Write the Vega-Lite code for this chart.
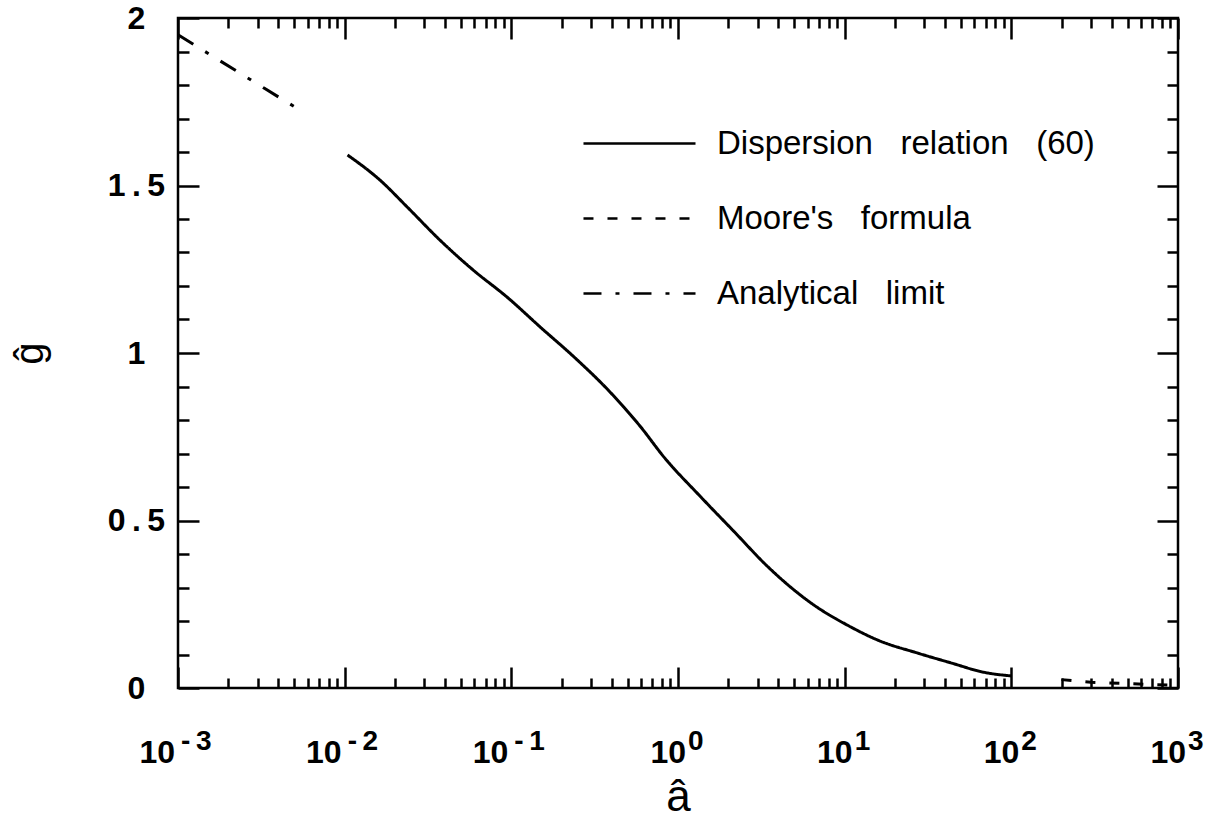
{
  "$schema": "https://vega.github.io/schema/vega-lite/v6.json",
  "width": 1000,
  "height": 670,
  "autosize": {"type": "none"},
  "padding": {"left": 178, "top": 18, "right": 41, "bottom": 130},
  "background": "white",
  "config": {
    "view": {"stroke": "black", "strokeWidth": 2.5},
    "font": "Liberation Sans",
    "axis": {"grid": false, "domain": false, "tickColor": "black", "tickWidth": 2.5, "labelColor": "black", "titleColor": "black"}
  },
  "datasets": {
    "curves": [
      {"series": "Dispersion relation (60)", "a": 0.0104, "g": 1.591},
      {"series": "Dispersion relation (60)", "a": 0.0163, "g": 1.516},
      {"series": "Dispersion relation (60)", "a": 0.0237, "g": 1.436},
      {"series": "Dispersion relation (60)", "a": 0.0373, "g": 1.337},
      {"series": "Dispersion relation (60)", "a": 0.0589, "g": 1.248},
      {"series": "Dispersion relation (60)", "a": 0.0942, "g": 1.167},
      {"series": "Dispersion relation (60)", "a": 0.151, "g": 1.075},
      {"series": "Dispersion relation (60)", "a": 0.238, "g": 0.988},
      {"series": "Dispersion relation (60)", "a": 0.38, "g": 0.89},
      {"series": "Dispersion relation (60)", "a": 0.598, "g": 0.779},
      {"series": "Dispersion relation (60)", "a": 0.822, "g": 0.69},
      {"series": "Dispersion relation (60)", "a": 1.372, "g": 0.57},
      {"series": "Dispersion relation (60)", "a": 2.16, "g": 0.468},
      {"series": "Dispersion relation (60)", "a": 3.46, "g": 0.362},
      {"series": "Dispersion relation (60)", "a": 6.27, "g": 0.254},
      {"series": "Dispersion relation (60)", "a": 10.9, "g": 0.182},
      {"series": "Dispersion relation (60)", "a": 15.8, "g": 0.143},
      {"series": "Dispersion relation (60)", "a": 27.5, "g": 0.104},
      {"series": "Dispersion relation (60)", "a": 43.4, "g": 0.075},
      {"series": "Dispersion relation (60)", "a": 68.4, "g": 0.047},
      {"series": "Dispersion relation (60)", "a": 100, "g": 0.036},
      {"series": "Moore's formula", "a": 200, "g": 0.025},
      {"series": "Moore's formula", "a": 300, "g": 0.017},
      {"series": "Moore's formula", "a": 500, "g": 0.013},
      {"series": "Moore's formula", "a": 1000, "g": 0.008},
      {"series": "Analytical limit", "a": 0.001, "g": 1.95},
      {"series": "Analytical limit", "a": 0.0016, "g": 1.887},
      {"series": "Analytical limit", "a": 0.0033, "g": 1.79},
      {"series": "Analytical limit", "a": 0.0052, "g": 1.73}
    ],
    "ticklabels": [
      {"a": 0.001, "base": "10", "exp": "-\u20093", "neg": true},
      {"a": 0.01, "base": "10", "exp": "-\u20092", "neg": true},
      {"a": 0.1, "base": "10", "exp": "-\u20091", "neg": true},
      {"a": 1, "base": "10", "exp": "0", "neg": false},
      {"a": 10, "base": "10", "exp": "1", "neg": false},
      {"a": 100, "base": "10", "exp": "2", "neg": false},
      {"a": 1000, "base": "10", "exp": "3", "neg": false}
    ]
  },
  "layer": [
    {
      "data": {"name": "curves"},
      "transform": [{"filter": "datum.series === 'Dispersion relation (60)'"}],
      "mark": {"type": "line", "color": "black", "strokeWidth": 3, "interpolate": "monotone"},
      "encoding": {
        "x": {"field": "a", "type": "quantitative",
          "scale": {"type": "log", "domain": [0.001, 1000], "nice": false},
          "axis": {"orient": "bottom", "values": [0.001, 0.01, 0.1, 1, 10, 100, 1000], "tickSize": -21, "labels": false,
            "title": "â", "titleFont": "Liberation Sans", "titleFontSize": 44, "titleFontWeight": "normal",
            "titleX": 500, "titleY": 122, "titleBaseline": "alphabetic", "titleAlign": "center"}},
        "y": {"field": "g", "type": "quantitative",
          "scale": {"domain": [0, 2], "nice": false, "zero": false},
          "axis": {"orient": "left", "values": [0, 0.5, 1, 1.5, 2], "tickSize": -21,
            "labelExpr": "datum.value == 0.5 ? '0\u2009.\u20095' : datum.value == 1.5 ? '1\u2009.\u20095' : format(datum.value, 'd')",
            "labelFont": "Liberation Sans", "labelFontSize": 32, "labelFontWeight": "bold",
            "labelAlign": "center", "labelBaseline": "middle", "labelPadding": 63, "labelFlush": false, "labelOverlap": false,
            "title": "ĝ", "titleFont": "Liberation Sans", "titleFontSize": 40, "titleFontWeight": "normal",
            "titleX": -148, "titleY": 335, "titleAngle": 270, "titleBaseline": "middle", "titleAlign": "center"}},
        "strokeDash": {"field": "series", "type": "nominal",
          "scale": {"domain": ["Dispersion relation (60)", "Moore's formula", "Analytical limit"], "range": [[1, 0], [10, 14], [18, 14, 4, 14]]},
          "legend": {"orient": "none", "legendX": 445, "legendY": 109, "title": null,
            "symbolType": "M-5,0H5", "symbolSize": 502, "symbolStrokeWidth": 2.5, "symbolStrokeColor": "black", "symbolFillColor": "transparent",
            "labelFont": "Liberation Sans", "labelFontSize": 33, "labelColor": "black", "labelOffset": 61, "labelLimit": 700,
            "labelExpr": "join(split(datum.label, ' '), '\u00a0\u00a0 ')",
            "rowPadding": 41, "padding": 0}}
      }
    },
    {
      "data": {"name": "curves"},
      "transform": [{"filter": "datum.series === \"Moore's formula\""}],
      "mark": {"type": "line", "color": "black", "strokeWidth": 3},
      "encoding": {
        "x": {"field": "a", "type": "quantitative",
          "axis": {"orient": "bottom", "values": [0.002, 0.003, 0.004, 0.005, 0.006, 0.007, 0.008, 0.009, 0.02, 0.03, 0.04, 0.05, 0.06, 0.07, 0.08, 0.09, 0.2, 0.3, 0.4, 0.5, 0.6, 0.7, 0.8, 0.9, 2, 3, 4, 5, 6, 7, 8, 9, 20, 30, 40, 50, 60, 70, 80, 90, 200, 300, 400, 500, 600, 700, 800, 900], "tickSize": -10, "labels": false, "title": null}},
        "y": {"field": "g", "type": "quantitative",
          "axis": {"orient": "left", "values": [0.1, 0.2, 0.3, 0.4, 0.6, 0.7, 0.8, 0.9, 1.1, 1.2, 1.3, 1.4, 1.6, 1.7, 1.8, 1.9], "tickSize": -11, "labels": false, "title": null}},
        "strokeDash": {"field": "series", "type": "nominal"}
      }
    },
    {
      "data": {"name": "curves"},
      "transform": [{"filter": "datum.series === 'Analytical limit'"}],
      "mark": {"type": "line", "color": "black", "strokeWidth": 3},
      "encoding": {
        "x": {"field": "a", "type": "quantitative",
          "axis": {"orient": "top", "values": [0.001, 0.01, 0.1, 1, 10, 100, 1000], "tickSize": -21, "labels": false, "title": null}},
        "y": {"field": "g", "type": "quantitative",
          "axis": {"orient": "right", "values": [0, 0.5, 1, 1.5, 2], "tickSize": -21, "labels": false, "title": null}},
        "strokeDash": {"field": "series", "type": "nominal"}
      }
    },
    {
      "data": {"name": "ticklabels"},
      "transform": [{"filter": "datum.neg"}],
      "mark": {"type": "text", "align": "right", "baseline": "alphabetic", "dx": -3, "dy": 75, "font": "Liberation Sans", "fontSize": 32, "fontWeight": "bold", "color": "black"},
      "encoding": {
        "x": {"field": "a", "type": "quantitative",
          "axis": {"orient": "top", "values": [0.002, 0.003, 0.004, 0.005, 0.006, 0.007, 0.008, 0.009, 0.02, 0.03, 0.04, 0.05, 0.06, 0.07, 0.08, 0.09, 0.2, 0.3, 0.4, 0.5, 0.6, 0.7, 0.8, 0.9, 2, 3, 4, 5, 6, 7, 8, 9, 20, 30, 40, 50, 60, 70, 80, 90, 200, 300, 400, 500, 600, 700, 800, 900], "tickSize": -10, "labels": false, "title": null}},
        "y": {"datum": 0, "type": "quantitative",
          "axis": {"orient": "right", "values": [0.1, 0.2, 0.3, 0.4, 0.6, 0.7, 0.8, 0.9, 1.1, 1.2, 1.3, 1.4, 1.6, 1.7, 1.8, 1.9], "tickSize": -11, "labels": false, "title": null}},
        "text": {"field": "base"}
      }
    },
    {
      "data": {"name": "ticklabels"},
      "transform": [{"filter": "!datum.neg"}],
      "mark": {"type": "text", "align": "right", "baseline": "alphabetic", "dx": 8, "dy": 75, "font": "Liberation Sans", "fontSize": 32, "fontWeight": "bold", "color": "black"},
      "encoding": {
        "x": {"field": "a", "type": "quantitative", "axis": null},
        "y": {"datum": 0, "type": "quantitative", "axis": null},
        "text": {"field": "base"}
      }
    },
    {
      "data": {"name": "ticklabels"},
      "transform": [{"filter": "datum.neg"}],
      "mark": {"type": "text", "align": "left", "baseline": "alphabetic", "dx": 3, "dy": 62, "font": "Liberation Sans", "fontSize": 28, "fontWeight": "bold", "color": "black"},
      "encoding": {
        "x": {"field": "a", "type": "quantitative", "axis": null},
        "y": {"datum": 0, "type": "quantitative", "axis": null},
        "text": {"field": "exp"}
      }
    },
    {
      "data": {"name": "ticklabels"},
      "transform": [{"filter": "!datum.neg"}],
      "mark": {"type": "text", "align": "left", "baseline": "alphabetic", "dx": 10, "dy": 62, "font": "Liberation Sans", "fontSize": 28, "fontWeight": "bold", "color": "black"},
      "encoding": {
        "x": {"field": "a", "type": "quantitative", "axis": null},
        "y": {"datum": 0, "type": "quantitative", "axis": null},
        "text": {"field": "exp"}
      }
    }
  ],
  "resolve": {"axis": {"x": "independent", "y": "independent"}}
}
